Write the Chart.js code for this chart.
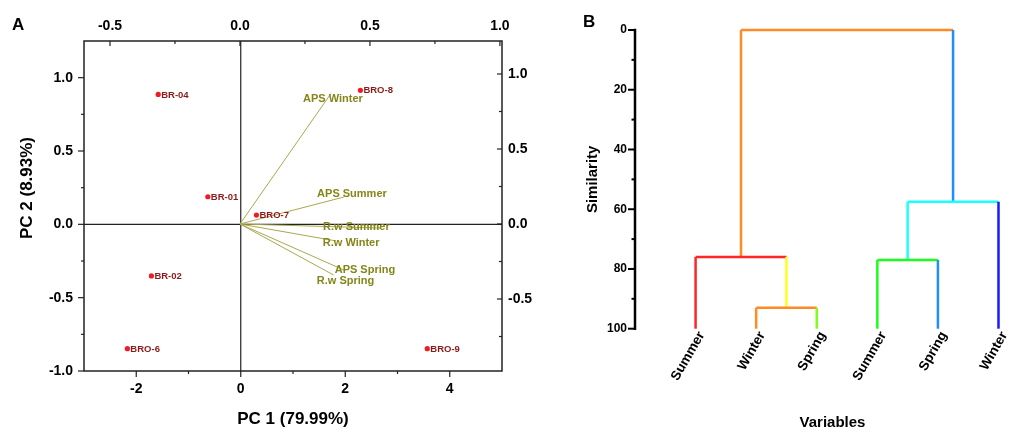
<!DOCTYPE html>
<html>
<head>
<meta charset="utf-8">
<script src="https://cdn.jsdelivr.net/npm/chart.js@4.4.1/dist/chart.umd.min.js"></script>
<style>
html, body { margin: 0; padding: 0; background: #fff; overflow: hidden; }
#wrap { position: relative; width: 1009px; height: 430px; overflow: hidden; }
#boxA { position: absolute; left: 0; top: 0; width: 540px; height: 430px; }
#boxB { position: absolute; left: 560px; top: 0; width: 470px; height: 430px; }
.tag { position: absolute; font: bold 17px "Liberation Sans", Arial, sans-serif; line-height: 1; }
</style>
</head>
<body>
<div id="wrap">
  <div id="boxA"><canvas id="pca"></canvas></div>
  <div id="boxB"><canvas id="dendro"></canvas></div>
  <div class="tag" style="left:12px;top:16px">A</div>
  <div class="tag" style="left:583px;top:13px">B</div>
</div>
<script>
// ---------------- data: PCA biplot ----------------
const sampleNames = ["BR-04", "BRO-8", "BR-01", "BRO-7", "BR-02", "BRO-6", "BRO-9"];
const pc1Scores = [-1.58, 2.29, -0.63, 0.30, -1.71, -2.17, 3.57];
const pc2Scores = [0.886, 0.914, 0.188, 0.063, -0.352, -0.848, -0.848];

const variableNames = ["APS Winter", "APS Summer", "R.w Summer", "R.w Winter", "APS Spring", "R.w Spring"];
const pc1Loadings = [0.35, 0.40, 0.54, 0.37, 0.40, 0.36];
const pc2Loadings = [0.87, 0.18, -0.027, -0.113, -0.307, -0.34];

const pc1Ticks = [-2, 0, 2, 4];
const pc2Ticks = [-1, -0.5, 0, 0.5, 1];
const loadTicksX = [-0.5, 0, 0.5, 1];
const loadTicksY = [-0.5, 0, 0.5, 1];

// ---------------- data: dendrogram ----------------
const leafNames = ["Summer", "Winter", "Spring", "Summer", "Spring", "Winter"];
// merges: ids 0-5 are leaves, merge k makes cluster 6+k
const mergeA = [1, 0, 3, 8, 7];
const mergeB = [2, 6, 4, 5, 9];
const mergeLevel = [93, 76, 77, 57.5, 0];
const simTicks = [0, 20, 40, 60, 80, 100];

// ---------------- styles ----------------
const FONT = '"Liberation Sans", Arial, sans-serif';
Chart.defaults.font.family = FONT;
Chart.defaults.color = "#000";
Chart.defaults.animation = false;

const pointColor = "#ee1c24";
const pointText = "#8b1a1a";
const vecLine = "#a8a84e";
const vecText = "#85851a";
// label offset from vector tip, px
const vecLabelShift = [[2, 5], [8, -3], [-24, -1], [15, 2], [21, 0], [12, 6]];

// colour of the vertical line above each node, and of each merge bar
const nodeColors = ["#ff2626", "#ff8a26", "#80ff1a", "#1aff1a", "#1e8fff", "#1a1aff",
                    "#ffff1a", "#ff8a26", "#1affff", "#1e8fff"];
const mergeColors = ["#ff8a26", "#ff2626", "#1aff1a", "#1affff", "#ff8a26"];

const noGrid = { display: false, drawTicks: false };

// ---------------- helpers ----------------
function fixedTicks(values) {
  return scale => { scale.ticks = values.map(v => ({ value: v })); };
}

function tickMarks(ctx, scale, values, len, fixed, dir) {
  values.forEach(v => {
    const p = scale.getPixelForValue(v);
    ctx.beginPath();
    if (scale.isHorizontal()) { ctx.moveTo(p, fixed); ctx.lineTo(p, fixed + dir * len); }
    else { ctx.moveTo(fixed, p); ctx.lineTo(fixed + dir * len, p); }
    ctx.stroke();
  });
}

// ---------------- chart A ----------------
const scoreData = sampleNames.map((n, i) => ({ x: pc1Scores[i], y: pc2Scores[i] }));

const vectorSets = variableNames.map((n, i) => ({
  label: n,
  data: [{ x: 0, y: 0 }, { x: pc1Loadings[i], y: pc2Loadings[i] }],
  xAxisID: "x2",
  yAxisID: "y2",
  showLine: true,
  borderColor: vecLine,
  borderWidth: 1,
  pointRadius: 0
}));

const pcaDecor = {
  id: "pcaDecor",
  beforeDatasetsDraw(chart) {
    const { ctx, chartArea: a, scales } = chart;
    ctx.save();
    ctx.strokeStyle = "#222";
    ctx.lineWidth = 1.2;
    const zx = scales.x.getPixelForValue(0);
    const zy = scales.y.getPixelForValue(0);
    ctx.beginPath();
    ctx.moveTo(zx, a.top); ctx.lineTo(zx, a.bottom);
    ctx.moveTo(a.left, zy); ctx.lineTo(a.right, zy);
    ctx.stroke();
    ctx.restore();
  },
  afterDraw(chart) {
    const { ctx, chartArea: a, scales } = chart;
    ctx.save();
    // frame
    ctx.strokeStyle = "#222";
    ctx.lineWidth = 1.5;
    ctx.strokeRect(a.left, a.top, a.right - a.left, a.bottom - a.top);
    // ticks
    ctx.lineWidth = 1.2;
    tickMarks(ctx, scales.x, pc1Ticks, 6, a.bottom, 1);
    tickMarks(ctx, scales.x, [-1, 1, 3], 3, a.bottom, 1);
    tickMarks(ctx, scales.y, pc2Ticks, 6, a.left, -1);
    tickMarks(ctx, scales.y, [-0.75, -0.25, 0.25, 0.75], 3, a.left, -1);
    tickMarks(ctx, scales.x2, loadTicksX, 5, a.top, 1);
    tickMarks(ctx, scales.x2, [-0.25, 0.25, 0.75], 3, a.top, 1);
    tickMarks(ctx, scales.y2, loadTicksY, 5, a.right, -1);
    tickMarks(ctx, scales.y2, [-0.75, -0.25, 0.25, 0.75], 3, a.right, -1);

    // sample labels
    ctx.font = "bold 9.5px " + FONT;
    ctx.fillStyle = pointText;
    ctx.textAlign = "left";
    ctx.textBaseline = "middle";
    sampleNames.forEach((n, i) => {
      ctx.fillText(n, scales.x.getPixelForValue(pc1Scores[i]) + 3,
                      scales.y.getPixelForValue(pc2Scores[i]) + 0.5);
    });

    // vector labels
    ctx.font = "bold 11px " + FONT;
    ctx.fillStyle = vecText;
    ctx.textAlign = "center";
    variableNames.forEach((n, i) => {
      const px = scales.x2.getPixelForValue(pc1Loadings[i]) + vecLabelShift[i][0];
      const py = scales.y2.getPixelForValue(pc2Loadings[i]) + vecLabelShift[i][1];
      ctx.fillText(n, px, py);
    });

    // left axis title
    ctx.font = "bold 17px " + FONT;
    ctx.fillStyle = "#000";
    ctx.translate(27, 188);
    ctx.rotate(-Math.PI / 2);
    ctx.fillText("PC 2 (8.93%)", 0, 0);
    ctx.restore();
  }
};

const tickFont = { size: 14, weight: "bold" };

new Chart(document.getElementById("pca"), {
  type: "scatter",
  data: {
    datasets: [{
      label: "samples",
      data: scoreData,
      xAxisID: "x",
      yAxisID: "y",
      pointRadius: 2.6,
      pointBorderWidth: 0,
      backgroundColor: pointColor,
      borderColor: pointColor
    }, ...vectorSets]
  },
  options: {
    responsive: true,
    maintainAspectRatio: false,
    layout: { padding: 0 },
    plugins: { legend: { display: false }, tooltip: { enabled: false } },
    scales: {
      x: {
        type: "linear", position: "bottom", min: -3, max: 5,
        grid: noGrid, border: { display: false },
        afterBuildTicks: fixedTicks(pc1Ticks),
        afterFit: s => { s.height = 59; },
        ticks: { font: tickFont, padding: 10, autoSkip: false, callback: v => String(v) },
        title: { display: true, text: "PC 1 (79.99%)", font: { size: 17, weight: "bold" }, padding: { top: 3, bottom: 0 } }
      },
      y: {
        type: "linear", position: "left", min: -1, max: 1.25,
        grid: noGrid, border: { display: false },
        afterBuildTicks: fixedTicks(pc2Ticks),
        afterFit: s => { s.width = 84; },
        ticks: { font: tickFont, padding: 11, autoSkip: false, callback: v => v.toFixed(1) }
      },
      x2: {
        type: "linear", position: "top", min: -0.6, max: 1.008,
        grid: noGrid, border: { display: false },
        afterBuildTicks: fixedTicks(loadTicksX),
        afterFit: s => { s.height = 41; },
        ticks: { font: tickFont, padding: 6, autoSkip: false, callback: v => v.toFixed(1) }
      },
      y2: {
        type: "linear", position: "right", min: -0.98, max: 1.22,
        grid: noGrid, border: { display: false },
        afterBuildTicks: fixedTicks(loadTicksY),
        afterFit: s => { s.width = 38; },
        ticks: { font: tickFont, padding: 6, autoSkip: false, callback: v => v.toFixed(1) }
      }
    }
  },
  plugins: [pcaDecor]
});

// ---------------- chart B ----------------
const nodePos = leafNames.map((n, i) => i + 1);
const nodeLevel = leafNames.map(() => 100);
const segments = [];
mergeLevel.forEach((lv, k) => {
  const a = mergeA[k], b = mergeB[k];
  segments.push({ pts: [[nodePos[a], nodeLevel[a]], [nodePos[a], lv]], color: nodeColors[a] });
  segments.push({ pts: [[nodePos[b], nodeLevel[b]], [nodePos[b], lv]], color: nodeColors[b] });
  segments.push({ pts: [[nodePos[a], lv], [nodePos[b], lv]], color: mergeColors[k] });
  nodePos.push((nodePos[a] + nodePos[b]) / 2);
  nodeLevel.push(lv);
});

const dendroSets = segments.map(s => ({
  data: s.pts.map(p => ({ x: p[0], y: p[1] })),
  showLine: true,
  borderColor: s.color,
  borderWidth: 2.5,
  pointRadius: 0,
  clip: false
}));

const simAxis = {
  id: "simAxis",
  afterDraw(chart) {
    const { ctx, chartArea: a, scales } = chart;
    const ys = scales.y;
    ctx.save();
    ctx.strokeStyle = "#000";
    ctx.lineWidth = 2.5;
    ctx.beginPath();
    ctx.moveTo(a.left, ys.getPixelForValue(0) - 1.2);
    ctx.lineTo(a.left, ys.getPixelForValue(100) + 1.2);
    ctx.stroke();
    ctx.lineWidth = 2;
    tickMarks(ctx, ys, simTicks, 7, a.left, -1);
    tickMarks(ctx, ys, [10, 30, 50, 70, 90], 3.5, a.left, -1);
    ctx.restore();
  }
};

new Chart(document.getElementById("dendro"), {
  type: "scatter",
  data: { datasets: dendroSets },
  options: {
    responsive: true,
    maintainAspectRatio: false,
    layout: { padding: { top: 30, right: 0, left: 0, bottom: 0 } },
    plugins: { legend: { display: false }, tooltip: { enabled: false } },
    scales: {
      x: {
        type: "linear", position: "bottom", min: 0, max: 6.52,
        grid: noGrid, border: { display: false },
        afterBuildTicks: fixedTicks(nodePos.slice(0, leafNames.length)),
        afterFit: s => { s.height = 101.3; },
        ticks: {
          font: { size: 13.5, weight: "bold" }, padding: 0, labelOffset: 6, autoSkip: false,
          minRotation: 60, maxRotation: 60,
          callback: v => leafNames[v - 1]
        },
        title: { display: true, text: "Variables", font: { size: 15, weight: "bold", lineHeight: 1 }, padding: { top: 0, bottom: 0 } }
      },
      y: {
        type: "linear", position: "left", min: 0, max: 100, reverse: true,
        grid: noGrid, border: { display: false },
        afterBuildTicks: fixedTicks(simTicks),
        afterFit: s => { s.width = 75; },
        ticks: { font: { size: 12, weight: "bold" }, padding: 8, autoSkip: false },
        title: { display: true, text: "Similarity", font: { size: 15, weight: "bold" }, padding: { top: 24, bottom: 0 } }
      }
    }
  },
  plugins: [simAxis]
});
</script>
</body>
</html>
